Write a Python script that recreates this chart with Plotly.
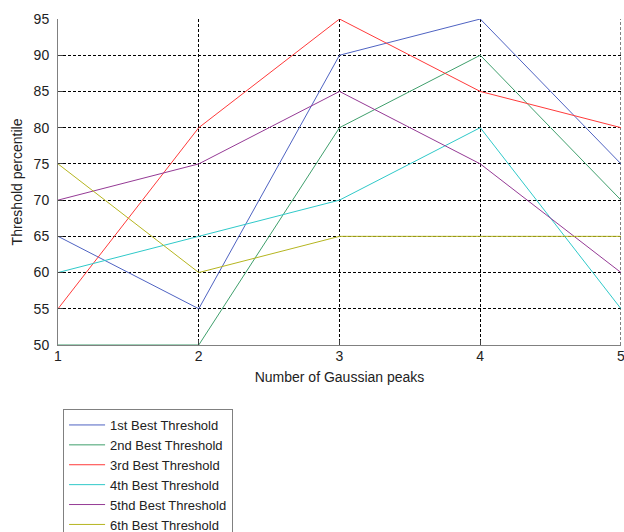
import plotly.graph_objects as go

x_peaks = [1, 2, 3, 4, 5]
names = ["1st Best Threshold", "2nd Best Threshold", "3rd Best Threshold",
         "4th Best Threshold", "5thd Best Threshold", "6th Best Threshold"]
best1 = [65, 55, 90, 95, 75]
best2 = [50, 50, 80, 90, 70]
best3 = [55, 80, 95, 85, 80]
best4 = [60, 65, 70, 80, 55]
best5 = [70, 75, 85, 75, 60]
best6 = [75, 60, 65, 65, 65]
series = [best1, best2, best3, best4, best5, best6]
colors = ["#4f63c2", "#3f9f6c", "#ff3a3a", "#2fc9c9", "#953a95", "#b5b520"]

fig = go.Figure()
for n, s, c in zip(names, series, colors):
    fig.add_trace(go.Scatter(x=x_peaks, y=s, mode="lines", name=n,
                             line=dict(color=c, width=1)))

fam = "Liberation Sans, Arial, sans-serif"
font = dict(family=fam, size=14, color="#222222")
axis_common = dict(showline=True, linecolor="#808080", linewidth=1, showgrid=True,
                   gridcolor="black", griddash="3px,2px", gridwidth=1, ticks="inside",
                   ticklen=5, tickcolor="#404040", zeroline=False, automargin=False,
                   ticklabeloverflow="allow",
                   tickfont=dict(family=fam, size=14, color="#222222"))
fig.update_layout(
    width=624, height=532,
    margin=dict(l=58, r=3, t=19, b=187, autoexpand=False),
    plot_bgcolor="white", paper_bgcolor="white",
    font=font,
    xaxis=dict(range=[1, 5], tickvals=[1, 2, 3, 4, 5], ticklabelstandoff=-2,
               title=dict(text="Number of Gaussian peaks", standoff=9,
                          font=dict(family=fam, size=14, color="#222222")),
               **axis_common),
    yaxis=dict(range=[50, 95], tickvals=list(range(50, 96, 5)), ticklabelstandoff=5,
               title=dict(text="Threshold percentile", standoff=7,
                          font=dict(family=fam, size=14, color="#222222")),
               **axis_common),
    legend=dict(x=0.009, y=-0.1963, xanchor="left", yanchor="top", bordercolor="#808080",
                borderwidth=1, bgcolor="white", itemwidth=36,
                font=dict(family=fam, size=13, color="#222222")),
    showlegend=True,
)
# right-hand dashed border (grid line at the last x tick)
fig.add_shape(type="line", xref="x", yref="paper", x0=x_peaks[-1], x1=x_peaks[-1],
              y0=0, y1=1, layer="below", line=dict(color="black", width=1, dash="3px,2px"))
fig.write_html("out.html", post_script="document.body.style.margin='0';",
               config={"displayModeBar": False})
